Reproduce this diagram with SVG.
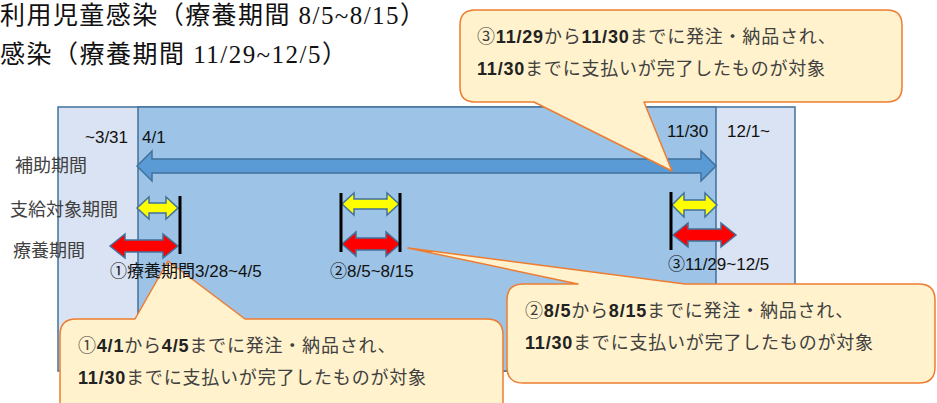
<svg xmlns="http://www.w3.org/2000/svg" width="937" height="403" viewBox="0 0 937 403">
<style>
.title{font-family:"Liberation Serif","Noto Sans CJK JP",serif;font-size:25px;fill:#111}
.lbl{font-family:"Liberation Sans","Noto Sans CJK JP",sans-serif;font-size:17px;fill:#111}
.side{font-family:"Liberation Sans","Noto Sans CJK JP",sans-serif;font-size:18px;fill:#404040}
.ct{font-family:"Liberation Sans","Noto Sans CJK JP",sans-serif;font-size:18px;fill:#404040;letter-spacing:0.8px}
.b{font-weight:700;fill:#222}
.call{fill:#FFF2CC;stroke:#ED7D31;stroke-width:1.5;stroke-linejoin:round}
.arr{stroke:#41719C;stroke-width:1.5;stroke-linejoin:miter}
.bar{stroke:#000;stroke-width:3}
</style>
<g id="titles">
<text class="title" x="0" y="24" textLength="425" lengthAdjust="spacing">利用児童感染（療養期間 8/5~8/15）</text>
<text class="title" x="0" y="63" textLength="347" lengthAdjust="spacing">感染（療養期間 11/29~12/5）</text>
</g>
<g id="timeline">
<rect x="58" y="107" width="737" height="264" fill="#DAE3F3" stroke="#41719C" stroke-width="1.5"/>
<rect x="138" y="107" width="578" height="264" fill="#9DC3E6" stroke="#41719C" stroke-width="1.5"/>
<text class="lbl" x="85" y="143">~3/31</text>
<text class="lbl" x="142" y="143">4/1</text>
<text class="lbl" x="667" y="137">11/30</text>
<text class="lbl" x="727" y="137">12/1~</text>
</g>
<g id="row-labels">
<text class="side" x="15" y="172">補助期間</text>
<text class="side" x="10" y="216">支給対象期間</text>
<text class="side" x="13" y="257">療養期間</text>
</g>
<g id="connectors">
<path class="arr" fill="#5B9BD5" d="M137,166 L152,151 L152,159 L701,159 L701,151 L716,166 L701,181 L701,173 L152,173 L152,181 Z"/>
<path class="arr" fill="#FFFF00" d="M137,208 L149,197 L149,203 L166,203 L166,197 L178,208 L166,219 L166,213 L149,213 L149,219 Z"/>
<path class="arr" fill="#FFFF00" d="M342,204 L354,193 L354,199 L387,199 L387,193 L399,204 L387,215 L387,209 L354,209 L354,215 Z"/>
<path class="arr" fill="#FFFF00" d="M672,205 L684,193 L684,200 L705,200 L705,193 L717,205 L705,217 L705,210 L684,210 L684,217 Z"/>
<path class="arr" fill="#FF0000" d="M110,246 L125,234 L125,240 L163,240 L163,234 L178,246 L163,258 L163,252 L125,252 L125,258 Z"/>
<path class="arr" fill="#FF0000" d="M342,244 L356,232 L356,238 L386,238 L386,232 L400,244 L386,256 L386,250 L356,250 L356,256 Z"/>
<path class="arr" fill="#FF0000" d="M673,235 L688,223 L688,229 L721,229 L721,223 L736,235 L721,247 L721,241 L688,241 L688,247 Z"/>
</g>
<g id="bars">
<line class="bar" x1="180" y1="196" x2="180" y2="254"/>
<line class="bar" x1="341" y1="193" x2="341" y2="252"/>
<line class="bar" x1="400" y1="193" x2="400" y2="252"/>
<line class="bar" x1="671" y1="192" x2="671" y2="250"/>
</g>
<g id="callout-3">
<path class="call" d="M475,10 L887,10 Q902,10 902,25 L902,87 Q902,102 887,102 L644,102 L672,171 L534,102 L475,102 Q460,102 460,87 L460,25 Q460,10 475,10 Z"/>
<text class="ct" x="477" y="43">③<tspan class="b">11/29</tspan>から<tspan class="b">11/30</tspan>までに発注・納品され、</text>
<text class="ct" x="477" y="75"><tspan class="b">11/30</tspan>までに支払いが完了したものが対象</text>
</g>
<g id="callout-1">
<path class="call" d="M76,319 L135,319 L168,261 L245,319 L487,319 Q503,319 503,335 L503,420 L60,420 L60,335 Q60,319 76,319 Z"/>
<text class="ct" x="78" y="352">①<tspan class="b">4/1</tspan>から<tspan class="b">4/5</tspan>までに発注・納品され、</text>
<text class="ct" x="78" y="384"><tspan class="b">11/30</tspan>までに支払いが完了したものが対象</text>
</g>
<g id="callout-2">
<path class="call" d="M523,284 L578,284 L408,248 L685,284 L919,284 Q935,284 935,300 L935,367 Q935,383 919,383 L523,383 Q507,383 507,367 L507,300 Q507,284 523,284 Z"/>
<text class="ct" x="525" y="317">②<tspan class="b">8/5</tspan>から<tspan class="b">8/15</tspan>までに発注・納品され、</text>
<text class="ct" x="525" y="349"><tspan class="b">11/30</tspan>までに支払いが完了したものが対象</text>
</g>
<g id="period-labels">
<text class="lbl" x="110" y="277" fill="#333">①療養期間<tspan fill="#111">3/28~4/5</tspan></text>
<text class="lbl" x="330" y="277">②8/5~8/15</text>
<text class="lbl" x="668" y="270">③11/29~12/5</text>
</g>
</svg>
